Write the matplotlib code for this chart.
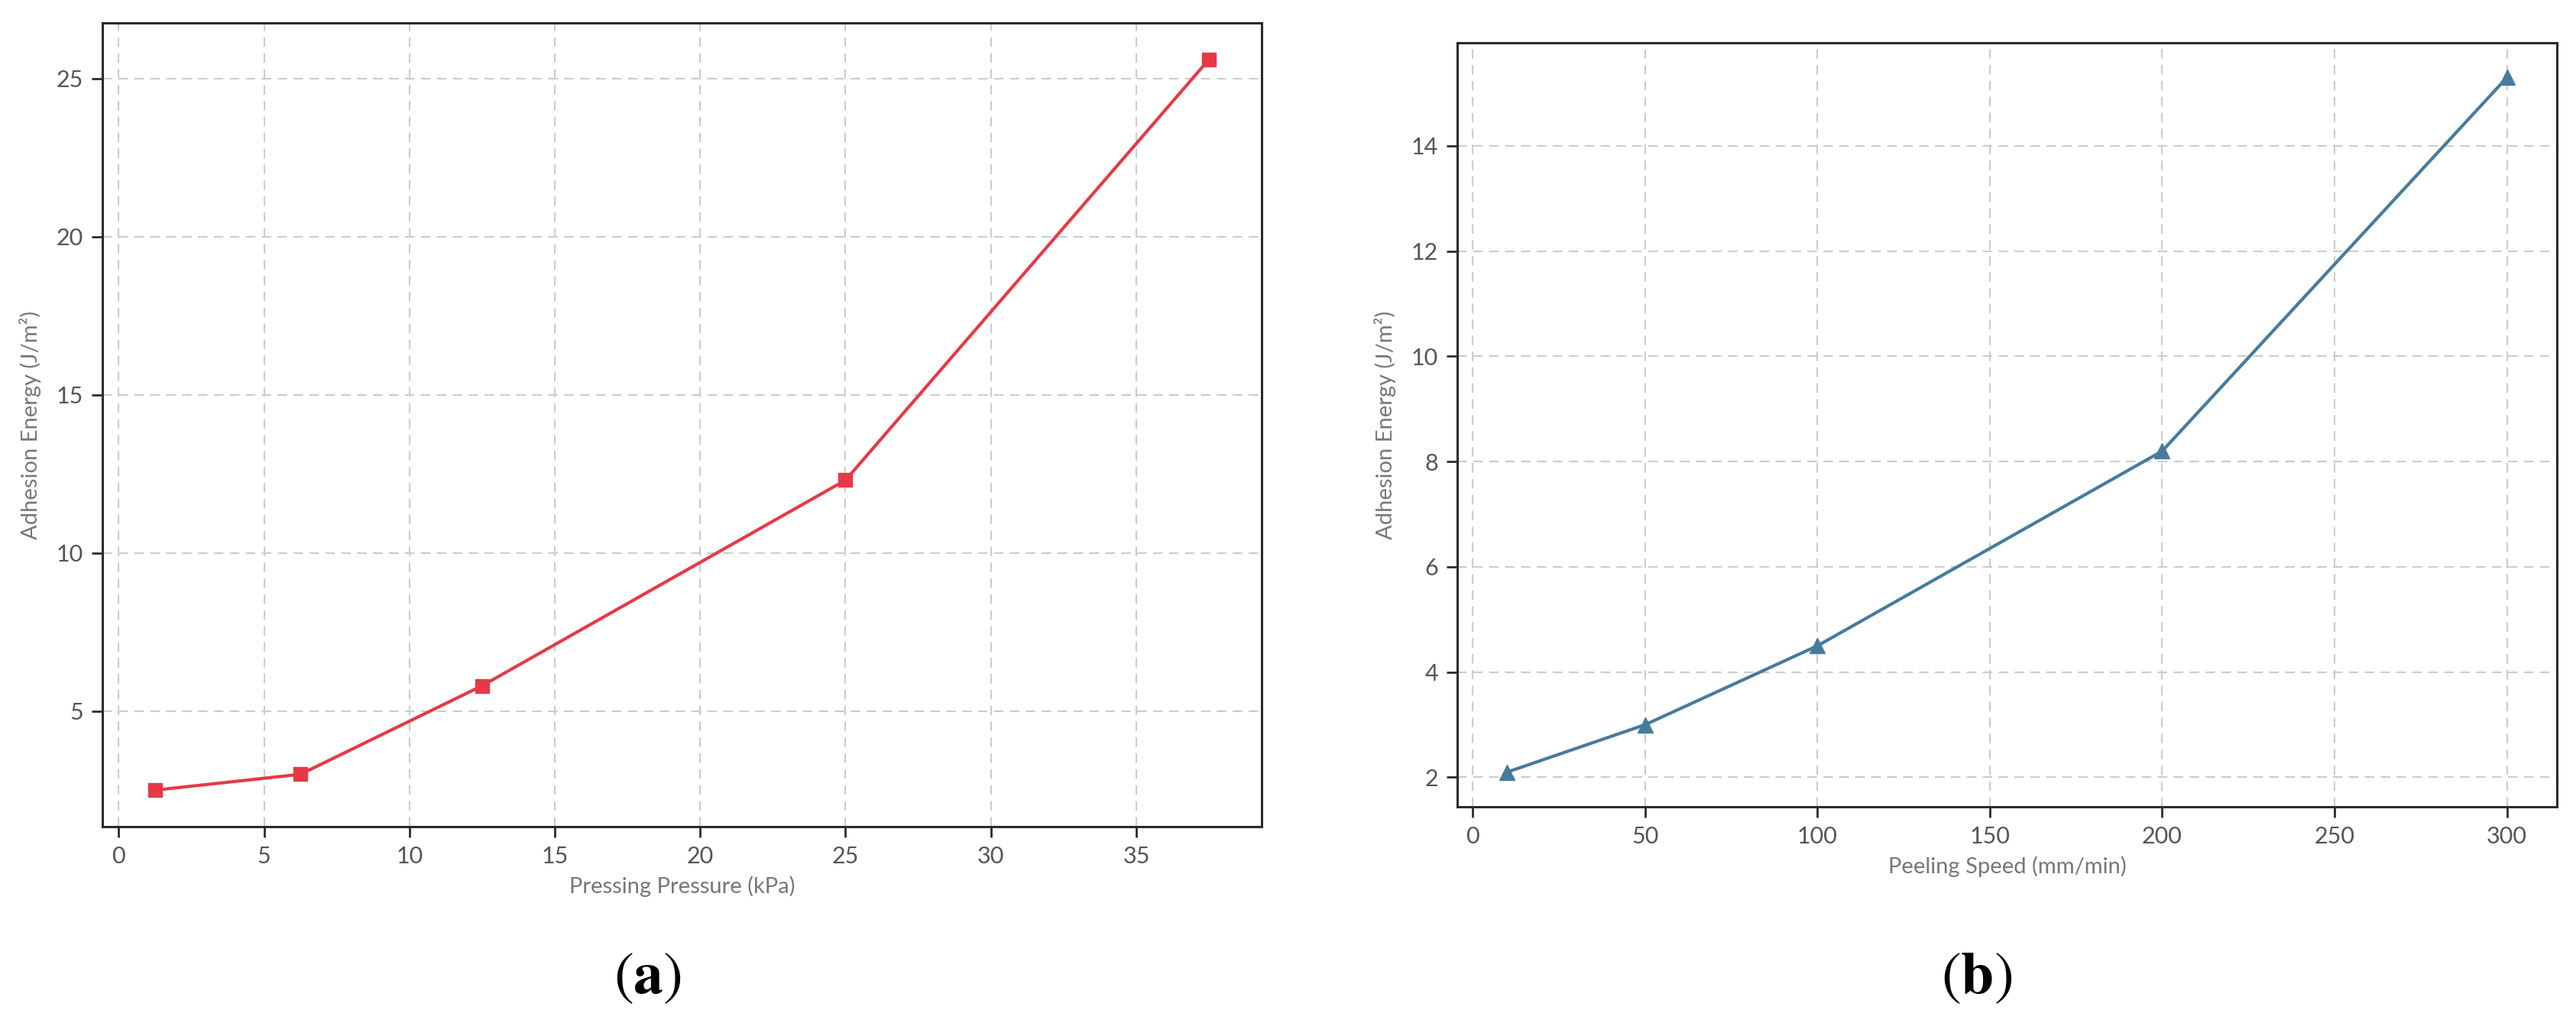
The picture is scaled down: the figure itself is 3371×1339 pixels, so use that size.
import numpy as np
import matplotlib
matplotlib.use("Agg")
import matplotlib.pyplot as plt

# panel (a)
pressure = [1.25, 6.25, 12.5, 25, 37.5]
energy_a = [2.5, 3.0, 5.8, 12.3, 25.6]

# panel (b)
speed = [10, 50, 100, 200, 300]
energy_b = [2.1, 3.0, 4.5, 8.2, 15.3]

W, H = 3371, 1339
plt.rcParams['font.family'] = ['Lato', 'DejaVu Sans']
plt.rcParams['mathtext.fontset'] = 'stix'
fig = plt.figure(figsize=(W / 100, H / 100), dpi=100)


def style(ax):
    for s in ax.spines.values():
        s.set_color('#2b2b2b')
        s.set_linewidth(2.2)
    ax.grid(True, linestyle='--', color='#cccccc', linewidth=1.5, dashes=(6, 4))
    ax.set_axisbelow(True)
    ax.tick_params(length=10, width=2, colors='#2b2b2b', labelsize=22,
                   labelcolor='#555555', pad=8)


# left panel
ax1 = fig.add_axes([134 / W, 1 - 1082 / H, (1651 - 134) / W, (1082 - 30) / H])
ax1.plot(pressure, energy_a, color='#E63946', lw=3, marker='s', ms=13)
style(ax1)
ax1.set_xticks([0, 5, 10, 15, 20, 25, 30, 35])
ax1.set_yticks([5, 10, 15, 20, 25])
ax1.set_xlabel('Pressing Pressure (kPa)', fontsize=21, color='#777777', labelpad=8)
ax1.set_ylabel('Adhesion Energy (J/m²)', fontsize=21, color='#777777', labelpad=14)

# right panel
ax2 = fig.add_axes([1907 / W, 1 - 1056 / H, (3346 - 1907) / W, (1056 - 56) / H])
ax2.plot(speed, energy_b, color='#457B9D', lw=3, marker='^', ms=14)
style(ax2)
ax2.set_xticks([0, 50, 100, 150, 200, 250, 300])
ax2.set_yticks([2, 4, 6, 8, 10, 12, 14])
ax2.set_xlabel('Peeling Speed (mm/min)', fontsize=21, color='#777777', labelpad=8)
ax2.set_ylabel('Adhesion Energy (J/m²)', fontsize=21, color='#777777', labelpad=14)

# panel letters
for xc, letter in [(847, 'a'), (2587, 'b')]:
    fig.text(xc / W, 1 - 1280 / H, r'$(\mathbf{%s})$' % letter, ha='center',
             va='center', fontsize=56, color='black')

fig.savefig('out.png', dpi=100)
